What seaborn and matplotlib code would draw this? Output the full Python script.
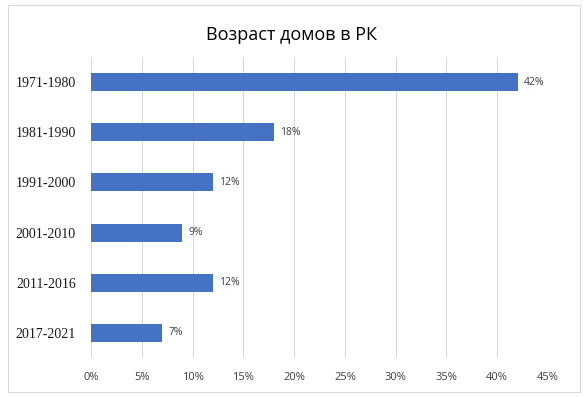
import matplotlib
matplotlib.use("Agg")
import matplotlib.pyplot as plt
import seaborn as sns
import pandas as pd
from matplotlib.patches import Rectangle
from matplotlib.ticker import FuncFormatter

categories = ["1971-1980", "1981-1990", "1991-2000", "2001-2010", "2011-2016", "2017-2021"]
values = [42, 18, 12, 9, 12, 7]
xticks = [0, 5, 10, 15, 20, 25, 30, 35, 40, 45]

df = pd.DataFrame({"period": categories, "share": values})

sns.set_style("white")
plt.rcParams['font.family'] = ['Open Sans', 'DejaVu Sans']

fig = plt.figure(figsize=(5.84, 3.97), dpi=100)
ax = fig.add_axes([91/584, 1-358/397, (548-91)/584, (358-57)/397])

sns.barplot(data=df, x="share", y="period", orient="h", color="#4472C4",
            width=0.36, ax=ax, saturation=1, linewidth=0)

ax.set_xlim(0, 45)
ax.set_ylim(5.5, -0.5)
ax.set_xticks(xticks)
ax.xaxis.set_major_formatter(FuncFormatter(lambda v, p: f"{int(v)}%"))
ax.grid(axis="x", color="#D9D9D9", linewidth=0.75)
ax.set_axisbelow(True)
for s in ax.spines.values():
    s.set_visible(False)
ax.tick_params(axis="both", length=0)
ax.tick_params(axis="x", labelsize=8, colors="#404040", pad=10)
ax.tick_params(axis="y", pad=11)
for lbl in ax.get_yticklabels():
    lbl.set_fontfamily("Liberation Serif")
    lbl.set_fontsize(10)
    lbl.set_color("#1a1a1a")
ax.set_xlabel("")
ax.set_ylabel("")

for i, v in enumerate(values):
    ax.text(v + 0.6, i, f"{v}%", va="center", ha="left", fontsize=7.5, color="#404040")

fig.text(0.5, 1-35/397, "Возраст домов в РК", ha="center", va="center", fontsize=13, color="black")

fig.patches.append(Rectangle((8/584, 1-392/397), (580-8)/584, (392-5)/397,
                             transform=fig.transFigure, fill=False, edgecolor="#D9D9D9", linewidth=0.75))

fig.savefig("out.png", dpi=100)
